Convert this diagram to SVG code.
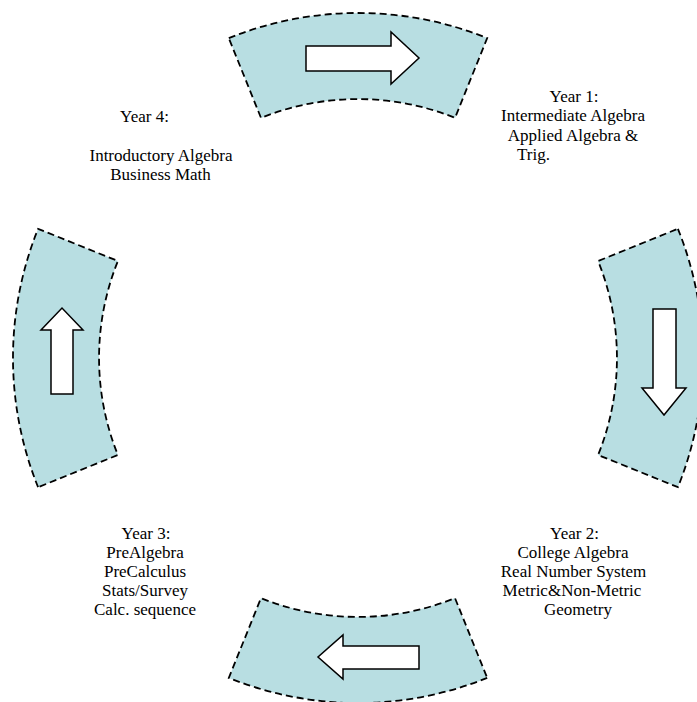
<svg xmlns="http://www.w3.org/2000/svg" width="697" height="702" viewBox="0 0 697 702">
<style>
.seg{fill:#B8DEE2;stroke:#000;stroke-width:1.8;stroke-dasharray:7 4}
.arr{fill:#fff;stroke:#000;stroke-width:1.5;stroke-linejoin:miter}
text{font-family:"Liberation Serif","Times New Roman",serif;font-size:17px;fill:#000;text-anchor:middle}
</style>
<rect width="697" height="702" fill="#fff"/>
<g id="seg-top">
<path class="seg" d="M228.8,38.1 A345,345 0 0 1 487.2,38.1 L455,117.9 A259,259 0 0 0 261,117.9 Z"/>
<path class="arr" d="M306,46 L391,46 L391,32 L419,58 L391,84 L391,71 L306,71 Z"/>
</g>
<g id="seg-right">
<path class="seg" d="M677.9,228.8 A345,345 0 0 1 677.9,487.2 L598.1,455 A259,259 0 0 0 598.1,261 Z"/>
<path class="arr" d="M653,309 L676,309 L676,388 L686,388 L664,415 L642,388 L653,388 Z"/>
</g>
<g id="seg-bottom">
<path class="seg" d="M487.2,677.9 A345,345 0 0 1 228.8,677.9 L261,598.1 A259,259 0 0 0 455,598.1 Z"/>
<path class="arr" d="M419,646 L419,669 L343,669 L343,679 L318,657 L343,635 L343,646 Z"/>
</g>
<g id="seg-left">
<path class="seg" d="M38.1,487.2 A345,345 0 0 1 38.1,228.8 L117.9,261 A259,259 0 0 0 117.9,455 Z"/>
<path class="arr" d="M51,394 L73,394 L73,330 L83,330 L62,308 L41,330 L51,330 Z"/>
</g>
<g id="year1">
<text x="574" y="102">Year 1:</text>
<text x="573" y="121">Intermediate Algebra</text>
<text x="573" y="140.5">Applied Algebra &amp;</text>
<text x="517" y="159.5" style="text-anchor:start">Trig.</text>
</g>
<g id="year2">
<text x="574.5" y="539">Year 2:</text>
<text x="573" y="558">College Algebra</text>
<text x="573.5" y="577">Real Number System</text>
<text x="572" y="596">Metric&amp;Non-Metric</text>
<text x="578" y="615">Geometry</text>
</g>
<g id="year3">
<text x="146" y="539">Year 3:</text>
<text x="145" y="558">PreAlgebra</text>
<text x="145" y="577">PreCalculus</text>
<text x="145" y="596">Stats/Survey</text>
<text x="145" y="615">Calc. sequence</text>
</g>
<g id="year4">
<text x="144.5" y="121.5">Year 4:</text>
<text x="161" y="161">Introductory Algebra</text>
<text x="160.5" y="180">Business Math</text>
</g>
</svg>
